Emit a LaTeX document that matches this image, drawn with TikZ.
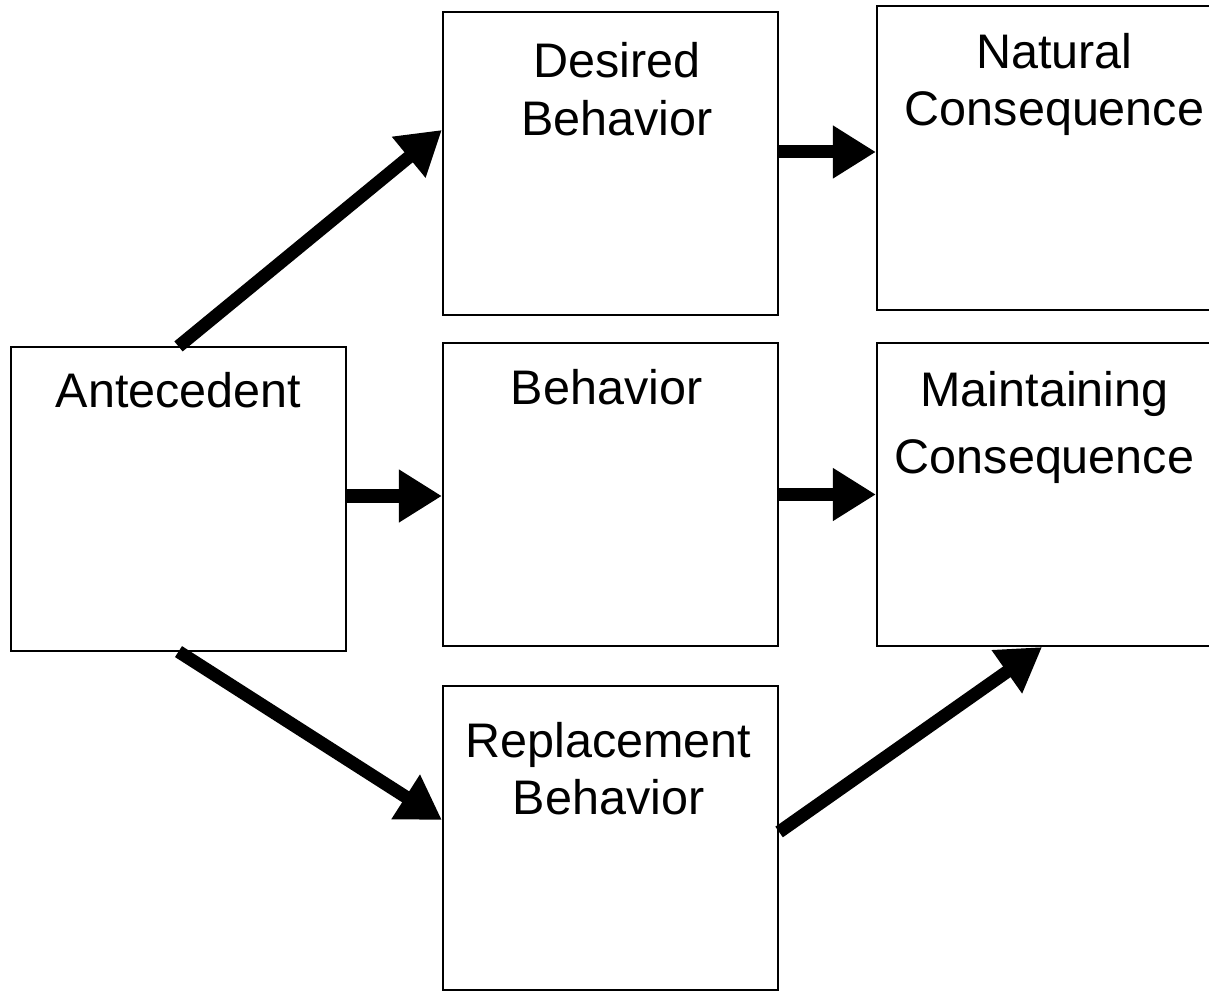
\documentclass[tikz,border=0pt]{standalone}
\usepackage{fontspec}
\setmainfont{Liberation Sans}
\usetikzlibrary{arrows.meta,positioning}
\tikzset{
  stage/.style={draw, line width=0.2mm, minimum width=3.35cm, minimum height=3.03cm, inner sep=0pt},
  stagetext/.style={anchor=north, inner sep=0pt, align=center},
  flow/.style={line width=1.3mm, -{Triangle[length=4.3mm,width=5mm]}}
}
\begin{document}
\begin{tikzpicture}[x=0.01cm,y=-0.01cm]
                        \clip (0,0) rectangle (1209,991);
                        {\fontsize{13.8pt}{16.4pt}\selectfont

                        % Drawing box ante
                        \node [stage] (ante) at (178.5,499) {};%

                        % Drawing box desired
                        \node [stage] (desired) at (610.5,163.5) {};%

                        % Drawing box natural
                        \node [stage] (natural) at (1044.5,158) {};%

                        % Drawing box behavior
                        \node [stage] (behavior) at (610.5,494.5) {};%

                        % Drawing box maint
                        \node [stage] (maint) at (1044.5,494.5) {};%

                        % Drawing box repl
                        \node [stage] (repl) at (610.5,838) {};%

                        % Marking text Antecedent
                        \node [stagetext, below=0.25cm of ante.north] (ante-t) {Antecedent};%

                        % Marking text Desired Behavior
                        \node [stagetext, below=0.31cm of desired.north, xshift=0.065cm] (desired-t) {Desired\\Behavior};%

                        % Marking text Natural Consequence
                        \node [stagetext, below=0.27cm of natural.north, xshift=0.1cm] (natural-t) {Natural\\Consequence};%

                        % Marking text Behavior
                        \node [stagetext, below=0.27cm of behavior.north, xshift=-0.04cm] (behavior-t) {Behavior};%

                        % Marking text Maintaining Consequence
                        \node [stagetext, below=0.29cm of maint.north] (maint-t) {Maintaining\\[0.9mm]Consequence};%

                        % Marking text Replacement Behavior
                        \node [stagetext, below=0.36cm of repl.north, xshift=-0.02cm] (repl-t) {Replacement\\Behavior};%

                        % Drawing arrow ante to desired
                        \draw [flow] (ante.north) -- ([yshift=0.335cm]desired.west);%

                        % Drawing arrow ante to behavior
                        \coordinate (a-out) at ([yshift=0.03cm]ante.east);%
                        \draw [flow] (a-out) -- (a-out -| behavior.west);%

                        % Drawing arrow desired to natural
                        \coordinate (d-out) at ([yshift=0.115cm]desired.east);%
                        \draw [flow] (d-out) -- (d-out -| natural.west);%

                        % Drawing arrow behavior to maint
                        \draw [flow] (behavior.east) -- (behavior.east -| maint.west);%

                        % Drawing arrow ante to repl
                        \draw [flow] (ante.south) -- ([yshift=0.18cm]repl.west);%

                        % Drawing arrow repl to maint
                        \draw [flow] ([yshift=0.06cm]repl.east) -- ([xshift=-0.025cm]maint.south);%
                        }
\end{tikzpicture}
\end{document}
